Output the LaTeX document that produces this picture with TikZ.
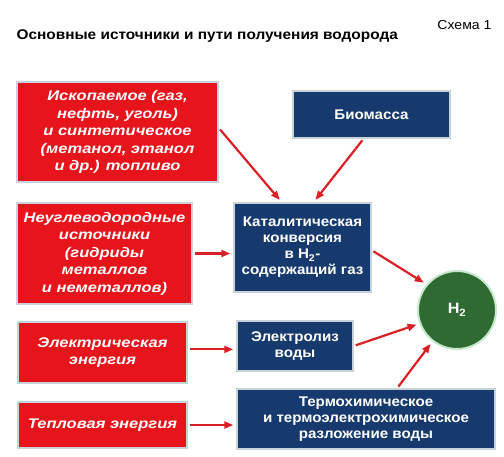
\documentclass[tikz,border=0pt]{standalone}
\usepackage{fontspec}
\setmainfont{Liberation Sans}
\newfontfamily\redfont[FakeStretch=1.18]{Liberation Sans}
\newfontfamily\bluefont[FakeStretch=1.08]{Liberation Sans}
\newfontfamily\titlefont[FakeStretch=1.1]{Liberation Sans}
\usetikzlibrary{arrows.meta,calc}
\definecolor{boxred}{HTML}{E8141B}
\definecolor{boxnavy}{HTML}{173A6E}
\definecolor{hgreen}{HTML}{2E6A31}
\definecolor{edgegray}{HTML}{C9D1D9}
\definecolor{arrred}{HTML}{DA1F26}
\begin{document}
\begin{tikzpicture}[x=1pt,y=-1pt,
  redbox/.style={rectangle, fill=boxred, draw=edgegray, line width=1.5pt, text=white,
    font=\redfont\fontsize{14}{17.5}\selectfont\bfseries\itshape, align=center, inner sep=0pt},
  bluebox/.style={rectangle, fill=boxnavy, draw=edgegray, line width=1.5pt, text=white,
    font=\bluefont\fontsize{14}{16}\selectfont\bfseries, align=center, inner sep=0pt},
  flow/.style={draw=arrred, line width=2.2pt, -{Triangle[length=9pt,width=7pt]}, shorten <=2pt, shorten >=3pt}
]
\fill[white] (0,0) rectangle (504,456);
\useasboundingbox (0,0) rectangle (504,456);
\node[anchor=west, font=\titlefont\fontsize{14}{17}\selectfont\bfseries] (title) at (13,36) {Основные источники и пути получения водорода};
\node[anchor=east, font=\bluefont\fontsize{13}{15}\selectfont] (schema) at (495,25) {Схема 1};

\node[redbox, minimum width=201, minimum height=100] (red1) at (117.5,132)
  {Ископаемое (газ,\\ нефть, уголь)\\ и синтетическое\\ (метанол, этанол\\ и др.) топливо};
\node[redbox, minimum width=175, minimum height=101] (red2) at (104.5,253.5)
  {Неуглеводородные\\ источники\\ (гидриды\\ металлов\\ и неметаллов)};
\node[redbox, minimum width=169, minimum height=61] (red3) at (102.5,352.5)
  {Электрическая\\ энергия};
\node[redbox, minimum width=169, minimum height=46] (red4) at (102.5,425)
  {Тепловая энергия};

\node[bluebox, minimum width=157, minimum height=47] (bio) at (371.5,114.5) {Биомасса};
\node[bluebox, minimum width=137, minimum height=89] (cat) at (302.5,247.5)
  {Каталитическая\\ конверсия\\ в H\textsubscript{2}-\\ содержащий газ};
\node[bluebox, minimum width=116, minimum height=50] (elec) at (295,346) {Электролиз\\ воды};
\node[bluebox, minimum width=258, minimum height=60] (thermo) at (366,419)
  {Термохимическое\\ и термоэлектрохимическое\\ разложение воды};

\node[circle, fill=hgreen, draw=edgegray!80!green!60!white, line width=2pt, minimum size=78,
  text=white, font=\bluefont\fontsize{15}{17}\selectfont\bfseries, inner sep=0pt] (h2) at (457,310) {H\textsubscript{2}};

\draw[flow] ($(red1.north east)!0.46!(red1.south east)$) -- ($(cat.north west)!0.35!(cat.north east)$);
\draw[flow] ($(bio.south west)!0.45!(bio.south east)$) -- ($(cat.north west)!0.58!(cat.north east)$);
\draw[flow] (red2.east) -- (cat.west |- red2.east);
\draw[flow] ($(cat.north east)!0.53!(cat.south east)$) -- (h2.140);
\draw[flow] ($(red3.north east)!0.45!(red3.south east)$) -- (elec.west |- {$(red3.north east)!0.45!(red3.south east)$});
\draw[flow] (elec.east) -- (h2.200);
\draw[flow] (red4.east) -- (thermo.west |- red4.east);
\draw[flow] ($(thermo.north west)!0.62!(thermo.north east)$) -- (h2.232);
\end{tikzpicture}
\end{document}
